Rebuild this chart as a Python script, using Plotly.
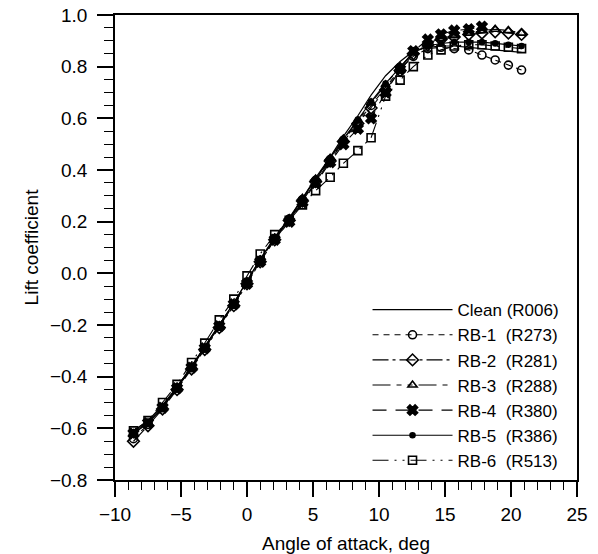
import plotly.graph_objects as go

alpha = [-8.6, -7.5, -6.4, -5.3, -4.2, -3.2, -2.1, -1.0, 0.0, 1.0, 2.1, 3.2, 4.2, 5.2,
         6.3, 7.3, 8.4, 9.4, 10.5, 11.6, 12.6, 13.7, 14.7, 15.7, 16.8, 17.8, 18.8, 19.8, 20.8]

cl_clean = [-0.61, -0.57, -0.51, -0.44, -0.36, -0.285, -0.20, -0.115, -0.03, 0.055, 0.14, 0.215,
            0.29, 0.37, 0.45, 0.53, 0.61, 0.69, 0.765, 0.82, 0.86, 0.875, 0.88, 0.88, 0.875,
            0.87, 0.865, 0.86, 0.855]
cl_rb1 = [-0.64, -0.585, -0.52, -0.445, -0.365, -0.29, -0.205, -0.12, -0.035, 0.05, 0.135, 0.21,
          0.285, 0.36, 0.44, 0.515, 0.585, 0.65, 0.72, 0.79, 0.84, 0.87, 0.875, 0.87, 0.865,
          0.845, 0.826, 0.806, 0.787]
cl_rb2 = [-0.65, -0.59, -0.525, -0.45, -0.37, -0.295, -0.21, -0.125, -0.04, 0.045, 0.13, 0.205,
          0.28, 0.355, 0.435, 0.51, 0.58, 0.64, 0.71, 0.785, 0.85, 0.885, 0.905, 0.915, 0.925,
          0.93, 0.935, 0.93, 0.925]
cl_rb3 = [-0.62, -0.58, -0.52, -0.44, -0.36, -0.29, -0.205, -0.12, -0.035, 0.05, 0.135, 0.21,
          0.29, 0.365, 0.445, 0.52, 0.59, 0.66, 0.73, 0.80, 0.855, 0.89, 0.91, 0.92, 0.93,
          0.94, 0.945, 0.94, 0.93]
cl_rb4 = [-0.62, -0.58, -0.52, -0.445, -0.365, -0.29, -0.205, -0.12, -0.04, 0.045, 0.13, 0.20,
          0.275, 0.35, 0.43, 0.50, 0.56, 0.60, 0.70, 0.79, 0.86, 0.905, 0.925, 0.94, 0.945,
          0.955, None, None, None]
cl_rb5 = [-0.615, -0.575, -0.515, -0.44, -0.36, -0.285, -0.20, -0.115, -0.03, 0.055, 0.135, 0.21,
          0.29, 0.365, 0.445, 0.52, 0.595, 0.665, 0.735, 0.80, 0.855, 0.88, 0.89, 0.895, 0.895,
          0.895, 0.89, 0.885, 0.88]
cl_rb6 = [-0.61, -0.57, -0.50, -0.43, -0.345, -0.27, -0.18, -0.10, -0.01, 0.075, 0.15, 0.205,
          0.265, 0.32, 0.372, 0.426, 0.475, 0.525, 0.686, 0.748, 0.80, 0.845, 0.865, 0.88, 0.885,
          0.885, 0.88, 0.875, 0.87]

names = ["Clean (R006)", "RB-1\u00a0\u00a0(R273)", "RB-2\u00a0\u00a0(R281)", "RB-3\u00a0\u00a0(R288)",
         "RB-4\u00a0\u00a0(R380)", "RB-5\u00a0\u00a0(R386)", "RB-6\u00a0\u00a0(R513)"]

series = [cl_clean, cl_rb1, cl_rb2, cl_rb3, cl_rb4, cl_rb5, cl_rb6]
styles = [
    dict(dash="solid", symbol=None, size=0),
    dict(dash="6px,5px", symbol="circle-open", size=8),
    dict(dash="16px,4px,3px,4px", symbol="diamond-open", size=9),
    dict(dash="18px,6px,5px,6px,5px,6px", symbol="triangle-up-open", size=8),
    dict(dash="14px,9px", symbol="x", size=9),
    dict(dash="solid", symbol="circle", size=5),
    dict(dash="16px,6px,2px,6px,2px,6px", symbol="square-open", size=8),
]

fig = go.Figure()
for name, y, st in zip(names, series, styles):
    if st["symbol"] is None:
        fig.add_trace(go.Scatter(x=alpha, y=y, name=name, mode="lines", cliponaxis=False,
                                 line=dict(color="black", width=1.2, dash=st["dash"])))
    else:
        fig.add_trace(go.Scatter(x=alpha, y=y, name=name, mode="lines+markers", cliponaxis=False,
                                 line=dict(color="black", width=1.1, dash=st["dash"]),
                                 marker=dict(symbol=st["symbol"], size=st["size"], color="black",
                                             line=dict(color="black", width=1.6))))

FAM = "Liberation Sans, Arial, sans-serif"
axis_font = dict(family=FAM, size=19, color="black")
legend_font = dict(family=FAM, size=17, color="black")

fig.update_layout(
    width=598, height=554,
    margin=dict(l=115, r=21, t=15, b=74),
    paper_bgcolor="white", plot_bgcolor="white",
    font=axis_font,
    showlegend=True,
    legend=dict(x=0.973, xanchor="right", y=0.404, yanchor="top",
                bgcolor="rgba(0,0,0,0)", font=legend_font, itemwidth=80,
                tracegroupgap=0),
)
fig.update_xaxes(
    range=[-10, 25], tickmode="linear", tick0=-10, dtick=5, automargin=False,
    ticklabeloverflow="allow",
    showline=True, mirror=True, linecolor="black", linewidth=1.5,
    ticks="outside", ticklen=15, tickwidth=1.5, tickcolor="black", ticklabelstandoff=1,
    minor=dict(dtick=1, tick0=-10, ticks="outside", ticklen=8, tickwidth=1.2, tickcolor="black", showgrid=False),
    showgrid=False, zeroline=False, tickfont=axis_font,
    title=dict(text="Angle of attack, deg", font=axis_font, standoff=14),
)
fig.update_yaxes(
    range=[-0.8, 1.0], tickmode="linear", tick0=-0.8, dtick=0.2, tickformat=".1f", automargin=False,
    ticklabeloverflow="allow",
    showline=True, mirror=True, linecolor="black", linewidth=1.5,
    ticks="outside", ticklen=16, tickwidth=1.5, tickcolor="black", ticklabelstandoff=6,
    minor=dict(dtick=0.05, ticks="outside", ticklen=9, tickwidth=1.2, tickcolor="black", showgrid=False),
    showgrid=False, zeroline=False, tickfont=axis_font,
    title=dict(text="Lift coefficient", font=axis_font, standoff=6),
)

fig.write_html("out.html", config={"displayModeBar": False},
               post_script="document.body.style.margin='0';document.body.style.padding='0';")
